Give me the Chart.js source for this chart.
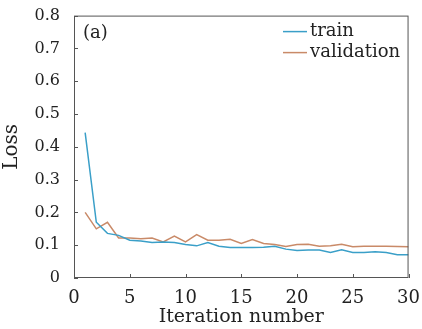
<!DOCTYPE html>
<html>
<head>
<meta charset="utf-8">
<script src="https://cdn.jsdelivr.net/npm/chart.js@4"></script>
<style>
    html, body { margin: 0; padding: 0; background: #fff; }
    #wrap { width: 422px; height: 329px; }
</style>
</head>
<body>
<div id="wrap"><canvas id="lossChart"></canvas></div>
<script>
const iterations = Array.from({ length: 30 }, (_, i) => i + 1);

const trainLoss = [
    0.443, 0.170, 0.136, 0.130, 0.115, 0.113, 0.108, 0.110, 0.108, 0.102,
    0.098, 0.108, 0.097, 0.093, 0.093, 0.093, 0.094, 0.097, 0.088, 0.084,
    0.085, 0.085, 0.078, 0.086, 0.078, 0.078, 0.080, 0.078, 0.071, 0.071
];

const validationLoss = [
    0.200, 0.150, 0.170, 0.122, 0.122, 0.120, 0.122, 0.110, 0.128, 0.110,
    0.132, 0.115, 0.115, 0.118, 0.105, 0.117, 0.105, 0.102, 0.096, 0.102,
    0.103, 0.097, 0.098, 0.103, 0.095, 0.097, 0.097, 0.097, 0.096, 0.095
];

const xTicks = [0, 5, 10, 15, 20, 25, 30];
const yTicks = [0, 0.1, 0.2, 0.3, 0.4, 0.5, 0.6, 0.7, 0.8];

const FONT = "'DejaVu Serif', 'Liberation Serif', serif";
const AXIS_COLOR = "#555";

function toPoints(values) {
    return values.map((v, i) => ({ x: iterations[i], y: v }));
}

// frame, inward ticks, panel tag and legend
const decorations = {
    id: "decorations",
    afterDraw(chart) {
        const { ctx, chartArea: area, scales } = chart;
        ctx.save();

        ctx.strokeStyle = AXIS_COLOR;
        ctx.lineWidth = 1;
        ctx.strokeRect(area.left + 0.5, area.top + 0.5, area.width - 1, area.height - 1);

        ctx.beginPath();
        xTicks.forEach(t => {
            const px = Math.round(scales.x.getPixelForValue(t)) + 0.5;
            ctx.moveTo(px, area.bottom);
            ctx.lineTo(px, area.bottom - 4);
        });
        yTicks.forEach(t => {
            const py = Math.round(scales.y.getPixelForValue(t)) + 0.5;
            ctx.moveTo(area.left, py);
            ctx.lineTo(area.left + 4, py);
        });
        ctx.stroke();

        ctx.fillStyle = "#222";
        ctx.font = `18px ${FONT}`;
        ctx.textBaseline = "middle";
        ctx.textAlign = "left";
        ctx.fillText("(a)", area.left + 9, area.top + 18);

        chart.data.datasets.forEach((ds, i) => {
            const y = area.top + 16 + i * 21;
            const x0 = area.left + 209;
            ctx.strokeStyle = ds.borderColor;
            ctx.lineWidth = 1.5;
            ctx.beginPath();
            ctx.moveTo(x0, y);
            ctx.lineTo(x0 + 24, y);
            ctx.stroke();
            ctx.fillText(ds.label, x0 + 27, y);
        });

        ctx.restore();
    }
};

new Chart(document.getElementById("lossChart"), {
    type: "line",
    data: {
        datasets: [
            {
                label: "train",
                data: toPoints(trainLoss),
                borderColor: "#3a9fc8",
                borderWidth: 1.5,
                pointRadius: 0,
                tension: 0
            },
            {
                label: "validation",
                data: toPoints(validationLoss),
                borderColor: "#c98a68",
                borderWidth: 1.5,
                pointRadius: 0,
                tension: 0
            }
        ]
    },
    options: {
        responsive: true,
        maintainAspectRatio: false,
        animation: false,
        layout: {
            padding: { left: 0, top: 14, right: 13, bottom: 0 }
        },
        plugins: {
            legend: { display: false },
            tooltip: { enabled: false }
        },
        scales: {
            x: {
                type: "linear",
                min: 0,
                max: 30,
                afterBuildTicks: scale => {
                    scale.ticks = xTicks.map(v => ({ value: v }));
                },
                afterFit: scale => { scale.height = 51; },
                grid: { display: false },
                border: { display: false },
                ticks: {
                    color: "#222",
                    padding: 2,
                    maxRotation: 0,
                    font: { family: FONT, size: 18 }
                },
                title: {
                    display: true,
                    text: "Iteration number",
                    color: "#222",
                    padding: { top: 0, bottom: 1 },
                    font: { family: FONT, size: 19 }
                }
            },
            y: {
                min: 0,
                max: 0.8,
                afterBuildTicks: scale => {
                    scale.ticks = yTicks.map(v => ({ value: v }));
                },
                afterFit: scale => { scale.width = 74; },
                grid: { display: false },
                border: { display: false },
                ticks: {
                    color: "#222",
                    padding: 6,
                    font: { family: FONT, size: 16 },
                    callback: v => (v === 0 ? "0" : v.toFixed(1))
                },
                title: {
                    display: true,
                    text: "Loss",
                    color: "#222",
                    padding: { top: 0, bottom: 0 },
                    font: { family: FONT, size: 20 }
                }
            }
        }
    },
    plugins: [decorations]
});
</script>
</body>
</html>
